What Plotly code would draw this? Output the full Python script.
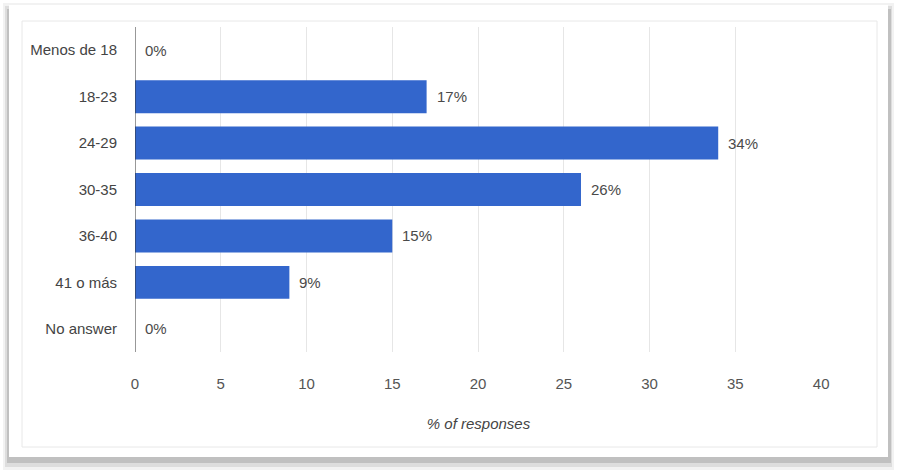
import plotly.graph_objects as go

# Age groups and share of responses (%)
age_groups = ["Menos de 18", "18-23", "24-29", "30-35", "36-40", "41 o más", "No answer"]
share_pct = [0, 17, 34, 26, 15, 9, 0]
x_ticks = [0, 5, 10, 15, 20, 25, 30, 35, 40]

W, H = 897, 471
BAR_BLUE = "#3366cc"
FONT = "Liberation Sans, Arial, Helvetica, sans-serif"
FS = 15

fig = go.Figure()
fig.add_trace(go.Bar(
    x=share_pct,
    y=age_groups,
    orientation="h",
    marker=dict(color=BAR_BLUE, line=dict(width=0)),
    hoverinfo="skip",
))

# value labels to the right of each bar
annotations = []
for cat, v in zip(age_groups, share_pct):
    annotations.append(dict(
        x=v, y=cat, xref="x", yref="y", text=f"{v}%",
        showarrow=False, xanchor="left", xshift=8,
        font=dict(family=FONT, size=FS, color="#4a4a4a"),
    ))

L, R, T, B = 135, 897 - 822, 27, 471 - 352
pw, ph = W - L - R, H - T - B


def rect_px(x0, y0, x1, y1, **kw):
    """Rectangle given in page pixels, expressed in plot-area paper coords."""
    return dict(type="rect", xref="paper", yref="paper", layer="below",
                x0=(x0 - L) / pw, x1=(x1 - L) / pw,
                y0=(H - B - y1) / ph, y1=(H - B - y0) / ph, **kw)


# card with a soft drop shadow
shapes = []
shadow_layers = [("#f2f2f2", 3, 3, 894, 470), ("#dddddd", 5, 6, 892, 467), ("#c0c0c0", 7, 9, 891, 463)]
for col, x0, y0, x1, y1 in shadow_layers:
    shapes.append(rect_px(x0, y0, x1, y1, fillcolor=col, line=dict(width=0)))
shapes.append(rect_px(9, 5, 888, 457, fillcolor="white", line=dict(width=0)))
shapes.append(rect_px(22, 21, 877, 447, fillcolor="rgba(0,0,0,0)",
                      line=dict(color="#e8e8e8", width=1)))

fig.update_layout(
    width=W, height=H,
    margin=dict(l=L, r=R, t=T, b=B, pad=0),
    paper_bgcolor="white",
    plot_bgcolor="rgba(0,0,0,0)",
    bargap=0.29,
    showlegend=False,
    shapes=shapes,
    annotations=annotations,
    font=dict(family=FONT, size=FS, color="#444"),
    xaxis=dict(
        range=[0, 40.05],
        tickvals=x_ticks,
        showgrid=True, gridcolor="#e6e6e6", gridwidth=1,
        zeroline=False, showline=False,
        ticks="outside", ticklen=18, tickcolor="rgba(0,0,0,0)",
        tickfont=dict(family=FONT, size=FS, color="#555"),
        title=dict(text="<i>% of responses</i>", standoff=27,
                   font=dict(family=FONT, size=FS, color="#444")),
        fixedrange=True,
    ),
    yaxis=dict(
        categoryorder="array", categoryarray=age_groups,
        autorange="reversed",
        showgrid=False, zeroline=False,
        showline=False,
        ticks="outside", ticklen=14, tickcolor="rgba(0,0,0,0)",
        tickfont=dict(family=FONT, size=FS, color="#444"),
        fixedrange=True,
    ),
)

# vertical baseline at zero
fig.add_shape(type="line", xref="x", yref="paper", x0=0, x1=0, y0=0, y1=1,
              line=dict(color="#333", width=1))

fig.write_html("out.html")
